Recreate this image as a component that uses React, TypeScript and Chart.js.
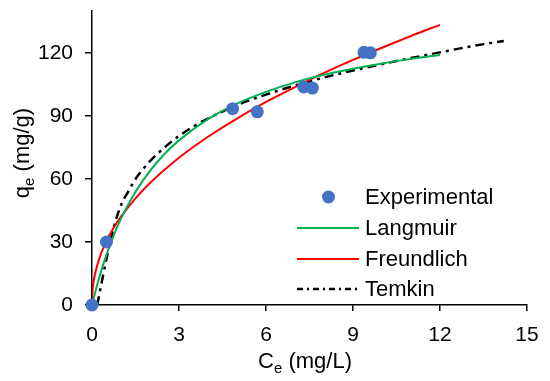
import React, { useEffect, useRef } from "react";
import { Chart, registerables } from "chart.js";

Chart.register(...registerables);

// Experimental data
const expX = [0, 0.5, 4.85, 5.7, 7.3, 7.6, 9.38, 9.6];
const expY = [0, 30, 93.5, 92, 103.8, 103.3, 120.3, 120.1];

// Langmuir model curve
const langX = [0, 0.1, 0.25, 0.5, 0.75, 1, 1.5, 2, 2.5, 3, 4, 5, 6, 7, 8, 9, 10, 11, 12];
const langY = [0, 5.5, 13.1, 24, 33.2, 41.1, 53.9, 63.9, 71.9, 78.4, 88.5, 95.9, 101.5, 106, 109.6, 112.5, 115, 117.2, 119];

// Freundlich model curve
const freX = [0, 0.02, 0.05, 0.1, 0.25, 0.5, 0.75, 1, 1.5, 2, 3, 4, 5, 6, 7, 8, 9, 10, 11, 12];
const freY = [0, 6.9, 10.5, 14.5, 22.1, 30.5, 36.8, 42.1, 50.8, 58.1, 70.1, 80.1, 88.8, 96.7, 103.8, 110.5, 116.7, 122.5, 128.1, 133.4];

// Temkin model curve
const temX = [0.18, 0.26, 0.5, 0.75, 1, 1.25, 1.5, 1.75, 2, 2.5, 3, 3.5, 4, 5, 6, 7, 8, 9, 10, 11, 12, 13, 14.2];
const temY = [0, 5.6, 22, 37, 47.5, 54, 60, 64.5, 68.5, 75, 80.5, 85, 88.8, 95.2, 100.2, 104.5, 108.3, 111.7, 114.7, 117.6, 120.3, 123, 125.7];

const xTicks = [0, 3, 6, 9, 12, 15];
const yTicks = [0, 30, 60, 90, 120];

const legendLabels = ["Experimental", "Langmuir", "Freundlich", "Temkin"];
const xTitleMain = "C";
const xTitleSub = "e";
const xTitleRest = " (mg/L)";
const yTitleMain = "q";
const yTitleSub = "e";
const yTitleRest = " (mg/g)";

const FONT = "'Liberation Sans', Arial, sans-serif";
const BLUE = "#4472C4";
const GREEN = "#00B050";
const RED = "#FF0000";
const DASH = [9, 5, 3, 5];

const toPts = (xs: number[], ys: number[]) => xs.map((x, i) => ({ x, y: ys[i] }));

function drawSubTitle(ctx: CanvasRenderingContext2D, main: string, sub: string, rest: string, cx: number, baseY: number) {
  const big = `22px ${FONT}`;
  const small = `15px ${FONT}`;
  ctx.font = big;
  const w1 = ctx.measureText(main).width;
  const w3 = ctx.measureText(rest).width;
  ctx.font = small;
  const w2 = ctx.measureText(sub).width;
  const total = w1 + w2 + w3;
  let x = cx - total / 2;
  ctx.textAlign = "left";
  ctx.textBaseline = "alphabetic";
  ctx.fillStyle = "#000";
  ctx.font = big;
  ctx.fillText(main, x, baseY);
  x += w1;
  ctx.font = small;
  ctx.fillText(sub, x, baseY + 5);
  x += w2;
  ctx.font = big;
  ctx.fillText(rest, x, baseY);
}

const customPlugin = {
  id: "customDecor",
  afterDraw(chart: any) {
    const ctx: CanvasRenderingContext2D = chart.ctx;
    const area = chart.chartArea;
    ctx.save();
    // X title
    drawSubTitle(ctx, xTitleMain, xTitleSub, xTitleRest, 305, 368);
    // Y title (rotated)
    ctx.save();
    ctx.translate(29, 153);
    ctx.rotate(-Math.PI / 2);
    drawSubTitle(ctx, yTitleMain, yTitleSub, yTitleRest, 0, 0);
    ctx.restore();

    // Legend
    const textX = 365;
    const rows = [197, 228, 259, 289];
    ctx.font = `22px ${FONT}`;
    ctx.fillStyle = "#000";
    ctx.textAlign = "left";
    ctx.textBaseline = "middle";
    legendLabels.forEach((lab, i) => {
      ctx.fillText(lab, textX, rows[i] + 1);
    });
    // marker
    ctx.beginPath();
    ctx.fillStyle = BLUE;
    ctx.arc(328.5, rows[0], 6.5, 0, Math.PI * 2);
    ctx.fill();
    // lines
    const lx1 = 297, lx2 = 359;
    const lineStyles = [
      { c: GREEN, d: [] as number[], w: 2 },
      { c: RED, d: [] as number[], w: 2 },
      { c: "#000", d: [6, 4, 2, 4], w: 2.5 },
    ];
    lineStyles.forEach((s, i) => {
      ctx.beginPath();
      ctx.strokeStyle = s.c;
      ctx.lineWidth = s.w;
      ctx.setLineDash(s.d);
      ctx.moveTo(lx1, rows[i + 1]);
      ctx.lineTo(lx2, rows[i + 1]);
      ctx.stroke();
    });
    ctx.setLineDash([]);
    ctx.restore();
  },
};

export default function App() {
  const ref = useRef<HTMLCanvasElement | null>(null);
  useEffect(() => {
    if (!ref.current) return;
    const chart = new Chart(ref.current, {
      type: "scatter",
      data: {
        datasets: [
          {
            label: legendLabels[0],
            data: toPts(expX, expY),
            backgroundColor: BLUE,
            borderColor: BLUE,
            pointRadius: 6.5,
            pointBorderWidth: 0,
            showLine: false,
            clip: false as any,
          },
          {
            label: legendLabels[1],
            data: toPts(langX, langY),
            borderColor: GREEN,
            borderWidth: 2,
            pointRadius: 0,
            showLine: true,
            cubicInterpolationMode: "monotone",
          },
          {
            label: legendLabels[2],
            data: toPts(freX, freY),
            borderColor: RED,
            borderWidth: 2,
            pointRadius: 0,
            showLine: true,
            cubicInterpolationMode: "monotone",
          },
          {
            label: legendLabels[3],
            data: toPts(temX, temY),
            borderColor: "#000",
            borderWidth: 2.5,
            borderDash: DASH,
            pointRadius: 0,
            showLine: true,
            cubicInterpolationMode: "monotone",
          },
        ],
      },
      options: {
        animation: false,
        responsive: true,
        maintainAspectRatio: false,
        events: [],
        layout: { padding: { left: 0, right: 23, top: 11, bottom: 0 } },
        plugins: {
          legend: { display: false },
          tooltip: { enabled: false },
          title: { display: false },
        },
        scales: {
          x: {
            type: "linear",
            min: 0,
            max: 15,
            afterBuildTicks: (scale: any) => {
              scale.ticks = xTicks.map((v) => ({ value: v }));
            },
            afterFit: (scale: any) => {
              scale.height = 76;
              scale.paddingLeft = 0;
              scale.paddingRight = 0;
            },
            ticks: {
              color: "#000",
              font: { family: FONT, size: 21 },
              padding: 12,
              maxRotation: 0,
            },
            grid: {
              drawOnChartArea: false,
              drawTicks: true,
              tickLength: 6,
              color: "#000",
              lineWidth: 1.5,
            },
            border: { display: true, color: "#000", width: 1.5 },
          },
          y: {
            type: "linear",
            min: 0,
            max: 140,
            afterBuildTicks: (scale: any) => {
              scale.ticks = yTicks.map((v) => ({ value: v }));
            },
            afterFit: (scale: any) => {
              scale.width = 92;
              scale.paddingTop = 0;
              scale.paddingBottom = 0;
            },
            ticks: {
              color: "#000",
              font: { family: FONT, size: 21 },
              padding: 12,
            },
            grid: {
              drawOnChartArea: false,
              drawTicks: true,
              tickLength: 7,
              color: "#000",
              lineWidth: 1.5,
            },
            border: { display: true, color: "#000", width: 1.5 },
          },
        },
      },
      plugins: [customPlugin],
    } as any);
    return () => chart.destroy();
  }, []);
  return (
    <div style={{ position: "fixed", left: 0, top: 0, width: 550, height: 381, background: "#fff" }}>
      <canvas ref={ref} />
    </div>
  );
}
